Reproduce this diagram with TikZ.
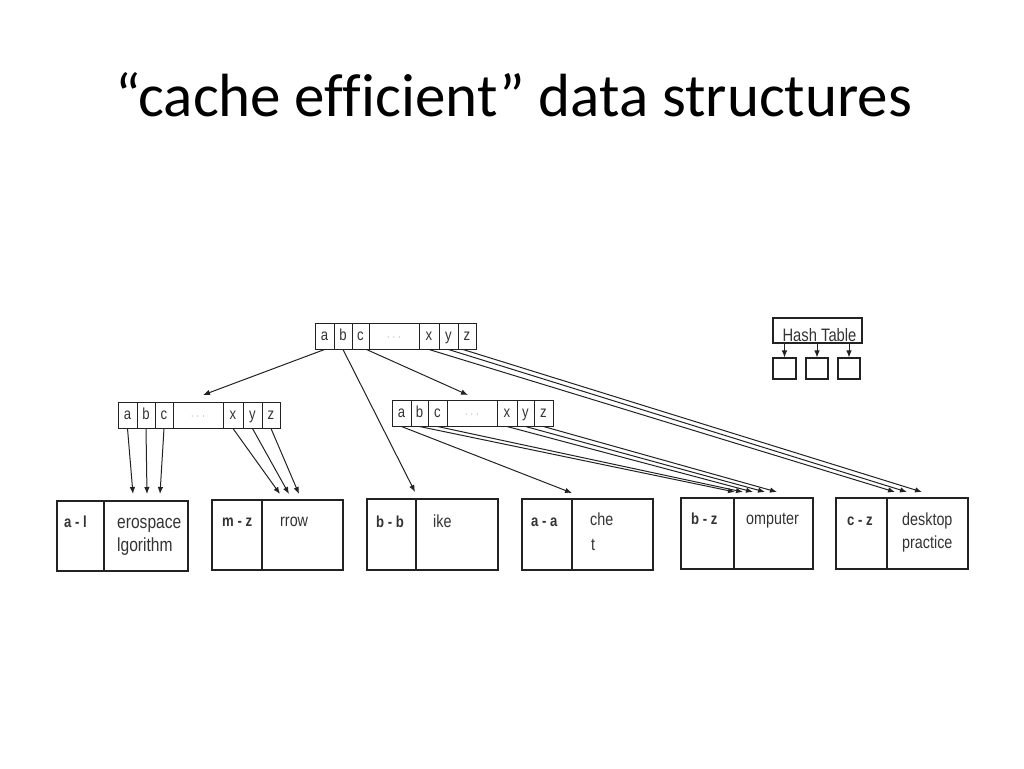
\documentclass[tikz,border=0pt]{standalone}
\usepackage{fontspec}
\setmainfont[FakeStretch=0.82]{Liberation Sans}
\newfontfamily\titlefont[Ligatures=NoCommon]{Carlito}
\usetikzlibrary{arrows.meta,calc}
\definecolor{linec}{HTML}{222222}
\definecolor{txtc}{HTML}{333333}
\begin{document}
\begin{tikzpicture}[x=1pt,y=-1pt,
  cell/.style={draw=linec, line width=1pt, inner sep=0pt, minimum height=26pt, text height=11.5pt, text depth=3.5pt,
    font=\fontsize{16}{18}\selectfont, text=txtc},
  dotcell/.style={cell, text=gray!70, font=\fontsize{11}{12}\selectfont},
  bx/.style={draw=linec, line width=1.1pt, inner sep=0pt},
  lbl/.style={inner sep=0pt, anchor=base west, font=\fontsize{17.5}{19}\selectfont, text=txtc},
  key/.style={lbl, font=\bfseries\fontsize{16}{18}\selectfont},
  arr/.style={draw=linec, line width=1pt, -{Latex[length=7pt,width=5.5pt]}},
]
\useasboundingbox (0,0) rectangle (1024,768);

% title
\node[font=\titlefont\fontsize{61}{63}\selectfont, anchor=base, inner sep=0pt] (title) at (514,116) {“cache efficient” data structures};

% top array
\node[cell, minimum width=19pt] (ta) at (324.5,336) {a};
\node[cell, minimum width=18pt] (tb) at (343,336) {b};
\node[cell, minimum width=17pt] (tc) at (360.5,336) {c};
\node[dotcell, minimum width=50pt] (td) at (394,336) {· · ·};
\node[cell, minimum width=20pt] (tx) at (429,336) {x};
\node[cell, minimum width=19pt] (ty) at (448.5,336) {y};
\node[cell, minimum width=18pt] (tz) at (467,336) {z};

% left array
\node[cell, minimum width=19pt] (la) at (127.5,415) {a};
\node[cell, minimum width=18pt] (lb) at (146,415) {b};
\node[cell, minimum width=18pt] (lc) at (164,415) {c};
\node[dotcell, minimum width=50pt] (ld) at (198,415) {· · ·};
\node[cell, minimum width=20pt] (lx) at (233,415) {x};
\node[cell, minimum width=19pt] (ly) at (252.5,415) {y};
\node[cell, minimum width=18pt] (lz) at (271,415) {z};

% middle array
\node[cell, minimum width=19pt] (ma) at (401.5,413) {a};
\node[cell, minimum width=17pt] (mb) at (419.5,413) {b};
\node[cell, minimum width=19pt] (mc) at (437.5,413) {c};
\node[dotcell, minimum width=50pt] (md) at (472,413) {· · ·};
\node[cell, minimum width=20pt] (mx) at (507,413) {x};
\node[cell, minimum width=17pt] (my) at (525.5,413) {y};
\node[cell, minimum width=19pt] (mz) at (543.5,413) {z};

% bottom boxes: key part and word part
\node[bx, minimum width=47pt, minimum height=70pt] (k1) at (80.5,536) {};
\node[bx, minimum width=84pt, minimum height=70pt] (w1) at (146,536) {};
\node[bx, minimum width=50pt, minimum height=70pt] (k2) at (237,535) {};
\node[bx, minimum width=81pt, minimum height=70pt] (w2) at (302.5,535) {};
\node[bx, minimum width=49pt, minimum height=71pt] (k3) at (391.5,534.5) {};
\node[bx, minimum width=82pt, minimum height=71pt] (w3) at (457,534.5) {};
\node[bx, minimum width=50pt, minimum height=71pt] (k4) at (547,534.5) {};
\node[bx, minimum width=81pt, minimum height=71pt] (w4) at (612.5,534.5) {};
\node[bx, minimum width=53pt, minimum height=71pt] (k5) at (707.5,533.5) {};
\node[bx, minimum width=79pt, minimum height=71pt] (w5) at (773.5,533.5) {};
\node[bx, minimum width=51pt, minimum height=71pt] (k6) at (861.5,533.5) {};
\node[bx, minimum width=81pt, minimum height=71pt] (w6) at (927.5,533.5) {};

% labels
\node[key] (k1t) at (64,527) {a - l};
\node[lbl, font=\fontsize{19}{21}\selectfont] (w1a) at (117,528) {erospace};
\node[lbl, font=\fontsize{19}{21}\selectfont] (w1b) at (117,551) {lgorithm};
\node[key] (k2t) at (222,526) {m - z};
\node[lbl] (w2a) at (280,526) {rrow};
\node[key] (k3t) at (376,527) {b - b};
\node[lbl] (w3a) at (433,527) {ike};
\node[key] (k4t) at (531,526) {a - a};
\node[lbl] (w4a) at (590,525) {che};
\node[lbl] (w4b) at (591,550) {t};
\node[key] (k5t) at (691,524) {b - z};
\node[lbl] (w5a) at (746,524) {omputer};
\node[key] (k6t) at (847,525) {c - z};
\node[lbl] (w6a) at (902,525) {desktop};
\node[lbl] (w6b) at (902,548) {practice};

% hash table
\node[bx, minimum width=89pt, minimum height=25pt] (hash) at (817.5,330.5) {};
\node[lbl, anchor=base, font=\fontsize{18}{20}\selectfont] (hasht) at (819.5,341) {Hash Table};
\node[bx, minimum width=23pt, minimum height=21pt] (hb1) at (784.5,368.5) {};
\node[bx, minimum width=22pt, minimum height=21pt] (hb2) at (817,368.5) {};
\node[bx, minimum width=22pt, minimum height=21pt] (hb3) at (849,368.5) {};
\draw[arr] (hb1.north |- hash.south) -- (hb1.north);
\draw[arr] (hb2.north |- hash.south) -- (hb2.north);
\draw[arr] (hb3.north |- hash.south) -- (hb3.north);

% arrow tips (free ends)
\coordinate (pTa) at (203,395);
\coordinate (pTb) at (415,492);
\coordinate (pTc) at (468,395);
\coordinate (pTx) at (895,492);
\coordinate (pTy) at (907,492);
\coordinate (pTz) at (922,492);
\coordinate (pLa) at (133,494);
\coordinate (pLb) at (147,494);
\coordinate (pLc) at (160,494);
\coordinate (pLx) at (280,494);
\coordinate (pLy) at (289,494);
\coordinate (pLz) at (299,494);
\coordinate (pMa) at (572,493);
\coordinate (pMb) at (735,492);
\coordinate (pMc) at (743,492);
\coordinate (pMx) at (753,492);
\coordinate (pMy) at (765,492);
\coordinate (pMz) at (777,492);

% connectors from top array
\draw[arr] (ta.south) -- (pTa);
\draw[arr] (tb.south) -- (pTb);
\draw[arr] ([xshift=6pt]tc.south) -- (pTc);
\draw[arr] (tx.south) -- (pTx);
\draw[arr] (ty.south) -- (pTy);
\draw[arr] ([xshift=-4pt]tz.south) -- (pTz);

% connectors from left array
\draw[arr] (la.south) -- (pLa);
\draw[arr] (lb.south) -- (pLb);
\draw[arr] (lc.south) -- (pLc);
\draw[arr] (lx.south) -- (pLx);
\draw[arr] (ly.south) -- (pLy);
\draw[arr] (lz.south) -- (pLz);

% connectors from middle array
\draw[arr] (ma.south) -- (pMa);
\draw[arr] (mb.south) -- (pMb);
\draw[arr] (mc.south) -- (pMc);
\draw[arr] (mx.south) -- (pMx);
\draw[arr] (my.south) -- (pMy);
\draw[arr] (mz.south) -- (pMz);
\end{tikzpicture}
\end{document}
